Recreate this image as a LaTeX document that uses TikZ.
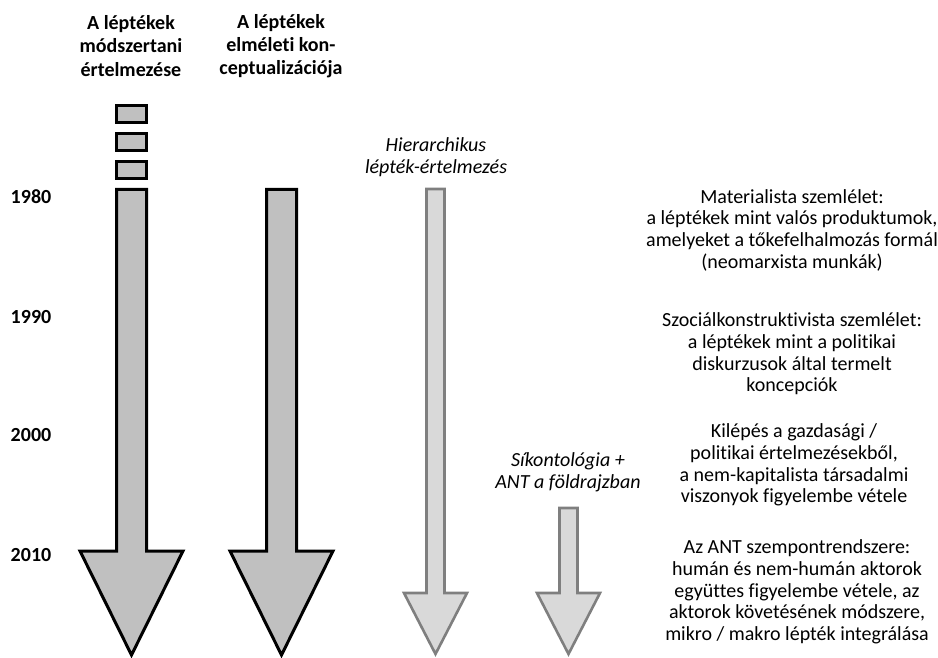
\documentclass[tikz,border=0pt]{standalone}
\usepackage{fontspec}
\setmainfont[Ligatures={NoCommon}]{Carlito}
\begin{document}
\begin{tikzpicture}[x=1pt,y=-1pt,
  darkarrow/.style={draw=black,fill=darkfill,line width=3pt,line join=miter},
  lightarrow/.style={draw=lightdraw,fill=lightfill,line width=2.6pt,line join=miter},
  hdr/.style={font=\fontsize{20}{23.3}\selectfont\bfseries,align=center},
  yr/.style={font=\fontsize{20}{22}\selectfont\bfseries},
  desc/.style={font=\fontsize{20}{21.7}\selectfont,align=center},
  itl/.style={font=\fontsize{20}{22}\selectfont\itshape,align=center}]
\definecolor{darkfill}{HTML}{C0C0C0}
\definecolor{lightfill}{HTML}{D9D9D9}
\definecolor{lightdraw}{HTML}{7F7F7F}
\useasboundingbox (0,0) rectangle (938,658);
% headers
\node[hdr] (h1) at (131,46) {A léptékek\\módszertani\\értelmezése};
\node[hdr] (h2) at (281,46) {A léptékek\\elméleti kon-\\ceptualizációja};
% small boxes
\draw[darkarrow] (116.5,105.5) rectangle (146.5,122.5);
\draw[darkarrow] (116.5,133.5) rectangle (146.5,150.5);
\draw[darkarrow] (116.5,161.5) rectangle (146.5,178.5);
% dark arrows
\draw[darkarrow] (116.5,189.5) -- (146.5,189.5) -- (146.5,551) -- (183,551) -- (131.5,655) -- (80,551) -- (116.5,551) -- cycle;
\draw[darkarrow] (266.5,189.5) -- (296.5,189.5) -- (296.5,551) -- (333,551) -- (281.5,655) -- (230,551) -- (266.5,551) -- cycle;
% light arrows
\draw[lightarrow] (426.5,189) -- (444.5,189) -- (444.5,593) -- (467,593) -- (435.5,654) -- (404,593) -- (426.5,593) -- cycle;
\draw[lightarrow] (559.5,508) -- (577.5,508) -- (577.5,593) -- (600,593) -- (568.5,654) -- (537,593) -- (559.5,593) -- cycle;
% italic labels
\node[itl] (hier) at (436,157) {Hierarchikus\\lépték-értelmezés};
\node[itl] (sik) at (568,472) {Síkontológia +\\ANT a földrajzban};
% years
\node[yr] (y1980) at (31,197) {1980};
\node[yr] (y1990) at (31,317) {1990};
\node[yr] (y2000) at (31,435) {2000};
\node[yr] (y2010) at (31,555) {2010};
% descriptions
\node[desc] (d1) at (792,230) {Materialista szemlélet:\\a léptékek mint valós produktumok,\\amelyeket a tőkefelhalmozás formál\\(neomarxista munkák)};
\node[desc] (d2) at (792,354) {Szociálkonstruktivista szemlélet:\\a léptékek mint a politikai\\diskurzusok által termelt\\koncepciók};
\node[desc] (d3) at (794,465) {Kilépés a gazdasági /\\politikai értelmezésekből,\\a nem-kapitalista társadalmi\\viszonyok figyelembe vétele};
\node[desc] (d4) at (797,592) {Az ANT szempontrendszere:\\humán és nem-humán aktorok\\együttes figyelembe vétele, az\\aktorok követésének módszere,\\mikro / makro lépték integrálása};
\end{tikzpicture}
\end{document}
